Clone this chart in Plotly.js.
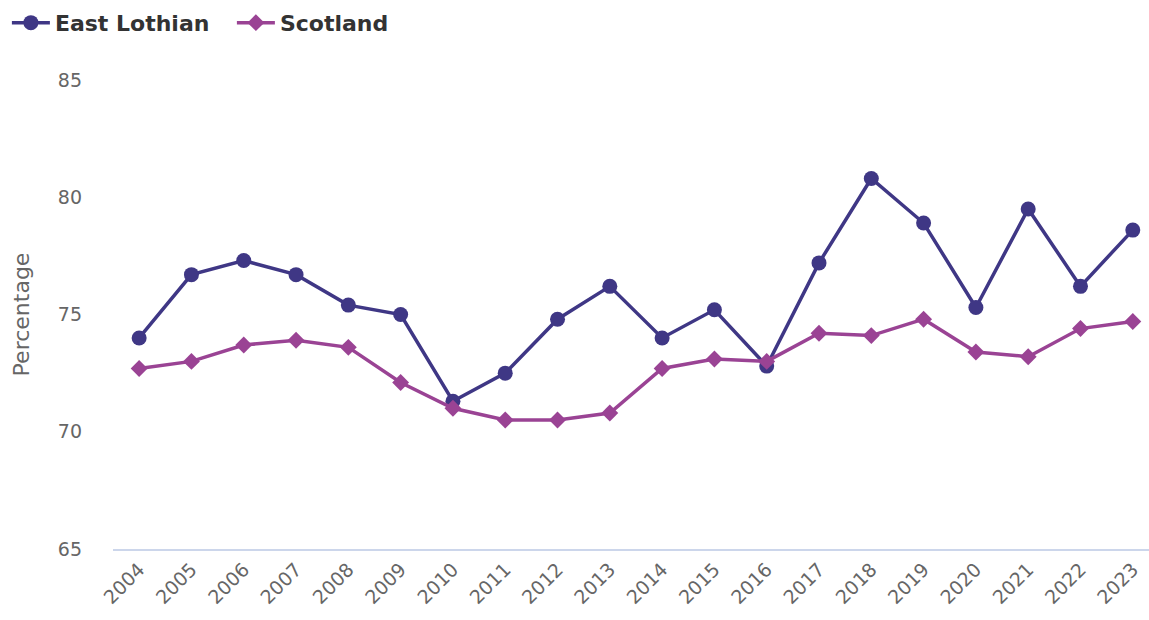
<!DOCTYPE html>
<html>
<head>
<meta charset="utf-8">
<script src="https://cdn.plot.ly/plotly-3.0.1.min.js"></script>
<style>html,body{margin:0;padding:0;background:#fff;}#chart{width:1149px;height:620px;}</style>
</head>
<body>
<div id="chart"></div>
<script>
const years = ["2004","2005","2006","2007","2008","2009","2010","2011","2012","2013","2014","2015","2016","2017","2018","2019","2020","2021","2022","2023"];
const eastLothian = [74.0,76.7,77.3,76.7,75.4,75.0,71.3,72.5,74.8,76.2,74.0,75.2,72.8,77.2,80.8,78.9,75.3,79.5,76.2,78.6];
const scotland = [72.7,73.0,73.7,73.9,73.6,72.1,71.0,70.5,70.5,70.8,72.7,73.1,73.0,74.2,74.1,74.8,73.4,73.2,74.4,74.7];
const yTicks = [65,70,75,80,85];

const font = "DejaVu Sans, Verdana, sans-serif";
const traces = [
  {x: years, y: eastLothian, name: "East Lothian", type: "scatter", mode: "lines+markers",
   line: {color: "#3f3785", width: 3.5}, marker: {symbol: "circle", size: 15, color: "#3f3785"}},
  {x: years, y: scotland, name: "Scotland", type: "scatter", mode: "lines+markers",
   line: {color: "#9a4394", width: 3.5}, marker: {symbol: "diamond", size: 13, color: "#9a4394"}}
];
const layout = {
  width: 1149, height: 620,
  margin: {l: 113, r: 0, t: 80, b: 71},
  paper_bgcolor: "#fff", plot_bgcolor: "#fff",
  font: {family: font, color: "#666", size: 19},
  showlegend: true,
  legend: {orientation: "h", xref: "container", yref: "container", x: 0.006, y: 0.997, xanchor: "left", yanchor: "top",
    font: {family: font, size: 22, color: "#333", weight: "bold"}, itemwidth: 38, entrywidth: 172, tracegroupgap: 0},
  xaxis: {type: "category", range: [-0.5, 19.31], showgrid: false, zeroline: false,
    showline: true, linecolor: "#ccd6eb", linewidth: 2, ticks: "", tickangle: -45,
    tickfont: {family: font, size: 19, color: "#666"}, fixedrange: true},
  yaxis: {range: [65, 85], tickvals: yTicks, showgrid: false, zeroline: false, showline: false,
    ticks: "", ticklabelstandoff: 30, tickfont: {family: font, size: 19, color: "#666"},
    title: {text: "Percentage", font: {family: font, size: 22, color: "#666"}, standoff: 22}, fixedrange: true}
};
Plotly.newPlot("chart", traces, layout, {displayModeBar: false, staticPlot: true});
</script>
</body>
</html>
